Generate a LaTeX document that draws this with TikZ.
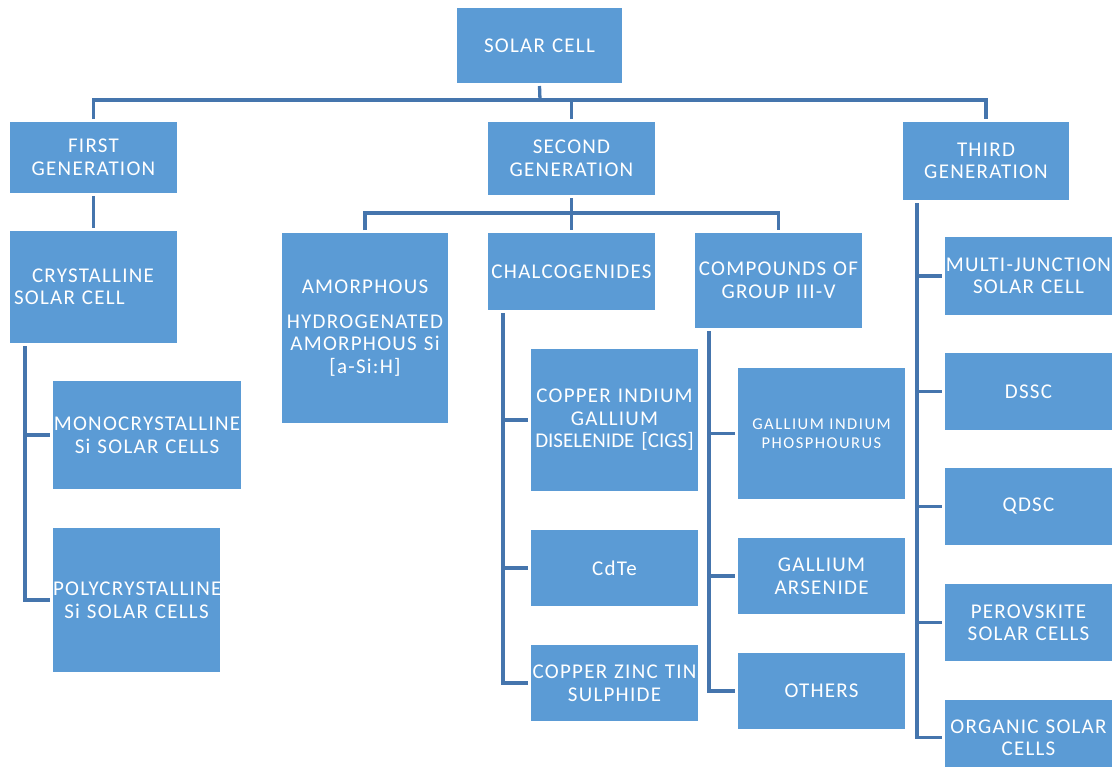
\documentclass[tikz,border=0pt]{standalone}
\usepackage{fontspec}
\setmainfont{Carlito}[LetterSpace=6]
\usepackage{xcolor}
\usepackage{tikz}
\usetikzlibrary{positioning,calc}
\definecolor{boxblue}{HTML}{5B9BD5}
\definecolor{linkblue}{HTML}{4575AD}
\hyphenpenalty=10000
\exhyphenpenalty=10000

\begin{document}
\begin{tikzpicture}[
    x=1pt, y=-1pt,
    box/.style 2 args={fill=boxblue, text=white, inner sep=0pt, outer sep=3pt,
        minimum width=#1pt, text width=#1pt, minimum height=#2pt, align=center,
        font=\fontsize{21}{22.5}\selectfont},
    small/.style={font=\fontsize{16.5}{19}\selectfont\addfontfeatures{LetterSpace=9}},
    link/.style={draw=linkblue, line width=3.3pt}
]
    \fill[white] (0,0) rectangle (1115,766);
    \useasboundingbox (0,0) rectangle (1115,766);

    \node[box={165}{75}] (sc) at (539.5,45.5) {SOLAR CELL};

    \node[box={167}{71}] (g1) at (93.5,157.5) {FIRST\\GENERATION};
    \node[box={167}{73}] (g2) at (571.5,158.5) {SECOND\\GENERATION};
    \node[box={166}{78}] (g3) at (986,161) {THIRD\\GENERATION};

    \node[box={167}{112}, align=left] (cry) at (93.5,287)
        {\hspace*{22pt}CRYSTALLINE\\ \hspace*{4pt}SOLAR CELL};
    \node[box={188}{108}] (mono) at (147,435) {MONOCRYSTALLINE\\Si SOLAR CELLS};
    \node[box={167}{144}] (poly) at (136.5,600) {POLYCRYSTALLINE\\Si SOLAR CELLS};

    \node[box={166}{190}] (amo) at (365,328)
        {AMORPHOUS\\[12pt]HYDROGENATED\\AMORPHOUS Si\\{[a-Si:H]}};
    \node[box={167}{77}] (chal) at (571.5,271.5) {CHALCOGENIDES};
    \node[box={167}{95}] (comp) at (778.5,280.5) {COMPOUNDS OF\\GROUP III-V};

    \node[box={167}{142}] (cigs) at (614.5,420)
        {COPPER INDIUM\\GALLIUM\\{\addfontfeatures{LetterSpace=0}DISELENIDE~[CIGS]}};
    \node[box={167}{76}] (cdte) at (614.5,568) {CdTe};
    \node[box={167}{76}] (czts) at (614.5,683) {COPPER ZINC TIN\\SULPHIDE};

    \node[box={167}{131}, small] (gip) at (821.5,433.5) {GALLIUM~INDIUM\\PHOSPHOURUS};
    \node[box={167}{76}] (gaas) at (821.5,576) {GALLIUM\\ARSENIDE};
    \node[box={167}{76}] (oth) at (821.5,691) {OTHERS};

    \node[box={167}{78}] (mj) at (1028.5,276) {MULTI-JUNCTION\\SOLAR CELL};
    \node[box={167}{77}] (dssc) at (1028.5,391.5) {DSSC};
    \node[box={167}{77}] (qdsc) at (1028.5,506.5) {QDSC};
    \node[box={167}{77}] (per) at (1028.5,622.5) {PEROVSKITE\\SOLAR CELLS};
    \node[box={167}{75}] (org) at (1028.5,737.5) {ORGANIC SOLAR\\CELLS};

    \coordinate (top) at (540,100);
    \coordinate (mid) at (571.5,213);

    \draw[link] (sc.south) -- (top);
    \draw[link] (g1.north) |- (top) -| (g3.north);
    \draw[link] (g2.north) -- (g2.north |- top);

    \draw[link] (g1.south) -- (cry.north);
    \draw[link] ($(cry.south west)+(18,0)$) |- (mono.west);
    \draw[link] ($(cry.south west)+(18,0)$) |- (poly.west);

    \draw[link] (g2.south) -- (chal.north);
    \draw[link] (amo.north) |- (mid) -| (comp.north);

    \draw[link] ($(chal.south west)+(18,0)$) |- (cigs.west);
    \draw[link] ($(chal.south west)+(18,0)$) |- (cdte.west);
    \draw[link] ($(chal.south west)+(18,0)$) |- (czts.west);

    \draw[link] ($(comp.south west)+(17,0)$) |- (gip.west);
    \draw[link] ($(comp.south west)+(17,0)$) |- (gaas.west);
    \draw[link] ($(comp.south west)+(17,0)$) |- (oth.west);

    \draw[link] ($(g3.south west)+(17,0)$) |- (mj.west);
    \draw[link] ($(g3.south west)+(17,0)$) |- (dssc.west);
    \draw[link] ($(g3.south west)+(17,0)$) |- (qdsc.west);
    \draw[link] ($(g3.south west)+(17,0)$) |- (per.west);
    \draw[link] ($(g3.south west)+(17,0)$) |- (org.west);
\end{tikzpicture}
\end{document}
